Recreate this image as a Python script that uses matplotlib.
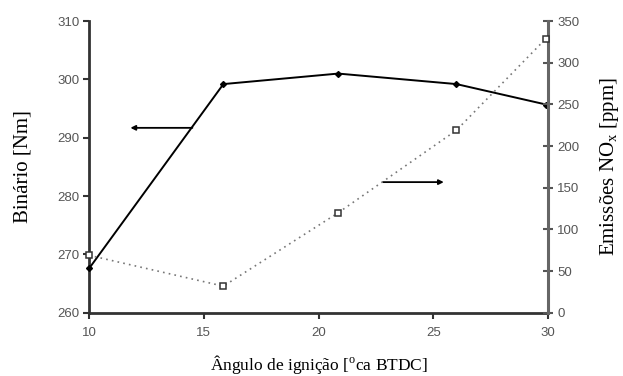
import matplotlib.pyplot as plt

plt.rcParams['mathtext.fontset'] = 'custom'
plt.rcParams['mathtext.rm'] = 'Liberation Serif'

# ignition advance sweep
angle_torque = [10, 15.85, 20.85, 26.0, 29.9]
torque = [267.6, 299.2, 301.0, 299.2, 295.7]

angle_nox = [10, 15.85, 20.85, 26.0, 29.9]
nox = [69, 32, 120, 219, 329]

x_ticks = [10, 15, 20, 25, 30]
torque_ticks = [260, 270, 280, 290, 300, 310]
nox_ticks = [0, 50, 100, 150, 200, 250, 300, 350]

tick_font = {'family': 'Liberation Sans', 'size': 9.5, 'color': '#555555'}
xlabel_font = {'family': 'Liberation Serif', 'size': 12.5}
ylabel_font = {'family': 'Liberation Serif', 'size': 15}

fig = plt.figure(figsize=(6.23, 3.76), dpi=100)
ax = fig.add_axes([0.143, 0.168, 0.737, 0.776])
ax2 = ax.twinx()

ax.plot(angle_torque, torque, color='black', lw=1.4, marker='D', ms=3,
        clip_on=False, zorder=5)
ax2.plot(angle_nox, nox, color='#777777', lw=1.2, ls=(0, (1, 2.5)),
         marker='s', ms=4.5, mfc='white', mec='#333333', mew=1.1,
         clip_on=False, zorder=4)

ax.set_xlim(10, 30)
ax.set_ylim(260, 310)
ax2.set_ylim(0, 350)

ax.set_xticks(x_ticks)
ax.set_xticklabels([str(v) for v in x_ticks], **tick_font)
ax.set_yticks(torque_ticks)
ax.set_yticklabels([str(v) for v in torque_ticks], **tick_font)
ax2.set_yticks(nox_ticks)
ax2.set_yticklabels([str(v) for v in nox_ticks], **tick_font)

for a in (ax, ax2):
    a.spines['top'].set_visible(False)
ax.spines['left'].set_color('#333333')
ax.spines['left'].set_linewidth(2)
ax.spines['bottom'].set_color('#333333')
ax.spines['bottom'].set_linewidth(2)
ax.spines['right'].set_visible(False)
ax2.spines['left'].set_visible(False)
ax2.spines['bottom'].set_visible(False)
ax2.spines['right'].set_color('#666666')
ax2.spines['right'].set_linewidth(2.2)

ax.tick_params(axis='x', direction='out', length=4, width=1.5, color='#333333', pad=6)
ax.tick_params(axis='y', direction='out', length=4, width=1.5, color='#333333', pad=3)
ax2.tick_params(axis='y', direction='inout', length=7, width=1.5, color='#555555', pad=3)

ax.set_xlabel('Ângulo de ignição [$^{\\rm o}$ca BTDC]', labelpad=10, **xlabel_font)
ax.set_ylabel('Binário [Nm]', labelpad=18, **ylabel_font)
ax2.set_ylabel('Emissões NO$_{\\rm x}$ [ppm]', labelpad=13, **ylabel_font)

# arrows pointing to the axis each curve belongs to
ax.annotate('', xy=(11.8, 291.7), xytext=(14.5, 291.7),
            arrowprops=dict(arrowstyle='-|>', color='black', lw=1.3,
                            mutation_scale=7, shrinkA=0, shrinkB=0))
ax.annotate('', xy=(25.45, 282.4), xytext=(22.8, 282.4),
            arrowprops=dict(arrowstyle='-|>', color='black', lw=1.3,
                            mutation_scale=7, shrinkA=0, shrinkB=0))

fig.savefig('out.png', dpi=100)
